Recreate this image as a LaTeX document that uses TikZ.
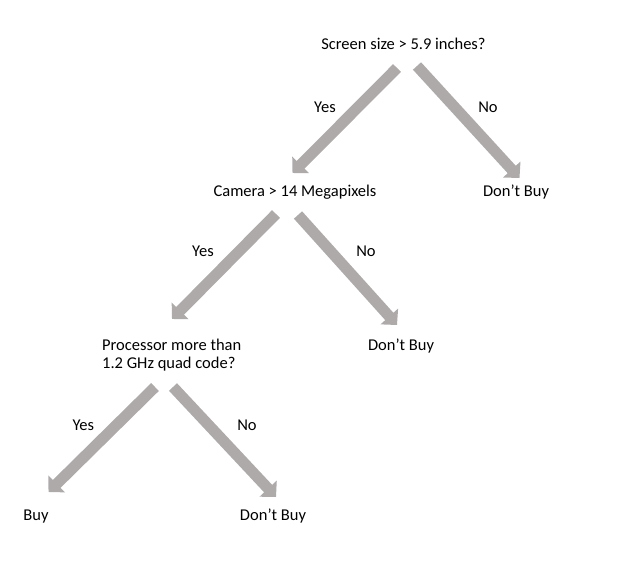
\documentclass[tikz,border=0pt]{standalone}
\usepackage{fontspec}
\setmainfont{Carlito}
\usetikzlibrary{arrows.meta}
\definecolor{arrowgray}{HTML}{AEAAAA}

\begin{document}
\begin{tikzpicture}[x=1pt,y=-1pt,
  every node/.style={font=\fontsize{16.5}{18.3}\selectfont, inner sep=0pt, anchor=base},
  branch/.style={arrowgray, line width=11pt, -{Triangle[length=11.5pt,width=23pt]}}]
\useasboundingbox (0,0) rectangle (618,564);
\node (screen) at (403.5,50) {Screen size > 5.9 inches?};
\node (camera) at (295,196.5) {Camera > 14 Megapixels};
\node[anchor=base west, align=left] (proc) at (102,368.3) {Processor more than\\1.2 GHz quad code?};
\node (dontbuy1) at (516,196.5) {Don’t Buy};
\node (dontbuy2) at (401,350) {Don’t Buy};
\node (dontbuy3) at (273,520) {Don’t Buy};
\node (buy) at (36,520) {Buy};
\node (yes1) at (325,113) {Yes};
\node (no1) at (488,113) {No};
\node (yes2) at (203,256.5) {Yes};
\node (no2) at (366,256.5) {No};
\node (yes3) at (83.3,430) {Yes};
\node (no3) at (247,430) {No};
\coordinate (s1) at (397,68);  \coordinate (t1) at (292.5,173);
\coordinate (s2) at (417,66);  \coordinate (t2) at (519.5,178);
\coordinate (s3) at (276,214); \coordinate (t3) at (172,319);
\coordinate (s4) at (298,215); \coordinate (t4) at (397,325);
\coordinate (s5) at (155,387); \coordinate (t5) at (48.5,492);
\coordinate (s6) at (173,387); \coordinate (t6) at (276,497);
\draw[branch] (s1) -- (t1);
\draw[branch] (s2) -- (t2);
\draw[branch] (s3) -- (t3);
\draw[branch] (s4) -- (t4);
\draw[branch] (s5) -- (t5);
\draw[branch] (s6) -- (t6);
\end{tikzpicture}
\end{document}
